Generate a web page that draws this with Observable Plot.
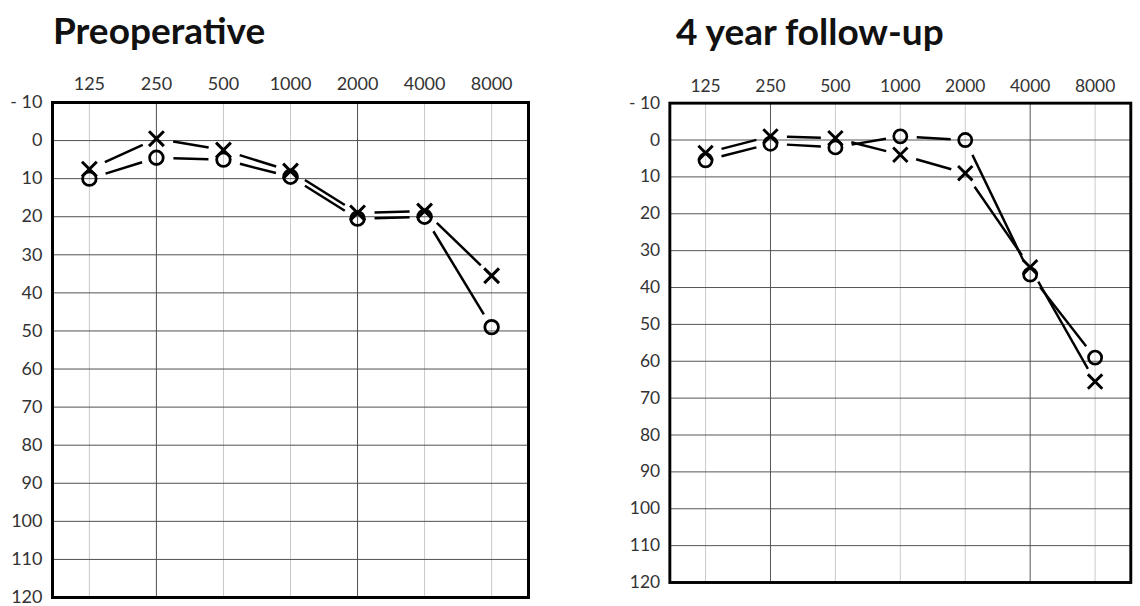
<!DOCTYPE html>
<html>
<head>
<meta charset="utf-8">
<script src="https://cdn.jsdelivr.net/npm/d3@7"></script>
<script src="https://cdn.jsdelivr.net/npm/@observablehq/plot@0.6"></script>
<style>
  html, body { margin: 0; padding: 0; background: #fff; }
  #wrap { position: relative; width: 1140px; height: 606px; overflow: hidden; background: #fff; }
  .title { position: absolute; font-family: Lato, "Open Sans", sans-serif; font-weight: 700; font-size: 37px; line-height: 37px; color: #111; white-space: nowrap; }
  .panel { position: absolute; }
</style>
</head>
<body>
<div id="wrap">
  <div class="title" style="left:53px; top:11px;">Preoperative</div>
  <div class="title" style="left:676px; top:12px;">4 year follow-up</div>
  <div class="panel" id="left" style="left:0px; top:60px;"></div>
  <div class="panel" id="right" style="left:619px; top:62px;"></div>
</div>
<script>
// Frequencies (Hz) and tick labels
const freqs = [125, 250, 500, 1000, 2000, 4000, 8000];
const freqLabels = ["125", "250", "500", "1000", "2000", "4000", "8000"];
// Hearing level ticks (dB) and labels
const dbTicks = [-10, 0, 10, 20, 30, 40, 50, 60, 70, 80, 90, 100, 110, 120];
const dbLabels = ["- 10", "0", "10", "20", "30", "40", "50", "60", "70", "80", "90", "100", "110", "120"];

// Preoperative thresholds (dB HL)
const preX = [7.5, -0.5, 2.5, 8, 19, 18.5, 35.5];
const preO = [10, 4.5, 5, 9.5, 20.5, 20, 49];
// 4 year follow-up thresholds (dB HL)
const fuX = [3.5, -1, -0.5, 4, 9, 34.5, 65.5];
const fuO = [5.5, 1, 2, -1, 0, 36.5, 59];

// Emphasised vertical grid lines per panel
const preDark = [250, 2000];
const fuDark = [250, 4000];

function segments(vals) {
  return freqs.slice(0, -1).map((f, i) => ({x1: f, y1: vals[i], x2: freqs[i + 1], y2: vals[i + 1]}));
}
function points(vals) {
  return freqs.map((f, i) => ({f, v: vals[i]}));
}

function panel(X, O, dark, labelDy) {
  const light = freqs.filter(f => !dark.includes(f));
  const lineOpts = {x1: "x1", y1: "y1", x2: "x2", y2: "y2", insetStart: 17, insetEnd: 15,
    headLength: 0, stroke: "black", strokeWidth: 2.5, strokeLinecap: "butt"};
  return Plot.plot({
    width: 538,
    height: 543,
    marginLeft: 52,
    marginRight: 10,
    marginTop: 42,
    marginBottom: 6,
    style: {fontFamily: "Lato, 'Open Sans', sans-serif", background: "white", overflow: "visible"},
    x: {type: "log", base: 2, domain: [125 * Math.pow(2, -0.55), 8000 * Math.pow(2, 0.55)], axis: null},
    y: {domain: [120, -10], axis: null},
    marks: [
      // grid
      Plot.ruleX(light, {stroke: "#c8c8c8", strokeWidth: 1}),
      Plot.ruleY(dbTicks, {stroke: "#505050", strokeWidth: 1}),
      Plot.ruleX(dark, {stroke: "#505050", strokeWidth: 1}),
      Plot.frame({stroke: "black", strokeWidth: 3}),
      // tick labels
      Plot.text(freqs, {x: d => d, frameAnchor: "top", lineAnchor: "middle", dy: labelDy,
        text: (d, i) => freqLabels[i], fontSize: 18, fill: "#333"}),
      Plot.text(dbTicks, {y: d => d, frameAnchor: "left", lineAnchor: "middle", dx: -10, textAnchor: "end",
        text: (d, i) => dbLabels[i], fontSize: 18, fill: "#333"}),
      // connecting lines, stopping short of the symbols
      Plot.arrow(segments(X), lineOpts),
      Plot.arrow(segments(O), lineOpts),
      // symbols
      Plot.dot(points(O), {x: "f", y: "v", r: 6.8, symbol: "circle", stroke: "black", strokeWidth: 2.8, fill: "none"}),
      Plot.dot(points(X), {x: "f", y: "v", r: 6.8, symbol: "times", stroke: "black", strokeWidth: 3})
    ]
  });
}

document.getElementById("left").appendChild(panel(preX, preO, preDark, -18));
document.getElementById("right").appendChild(panel(fuX, fuO, fuDark, -17));
</script>
</body>
</html>
